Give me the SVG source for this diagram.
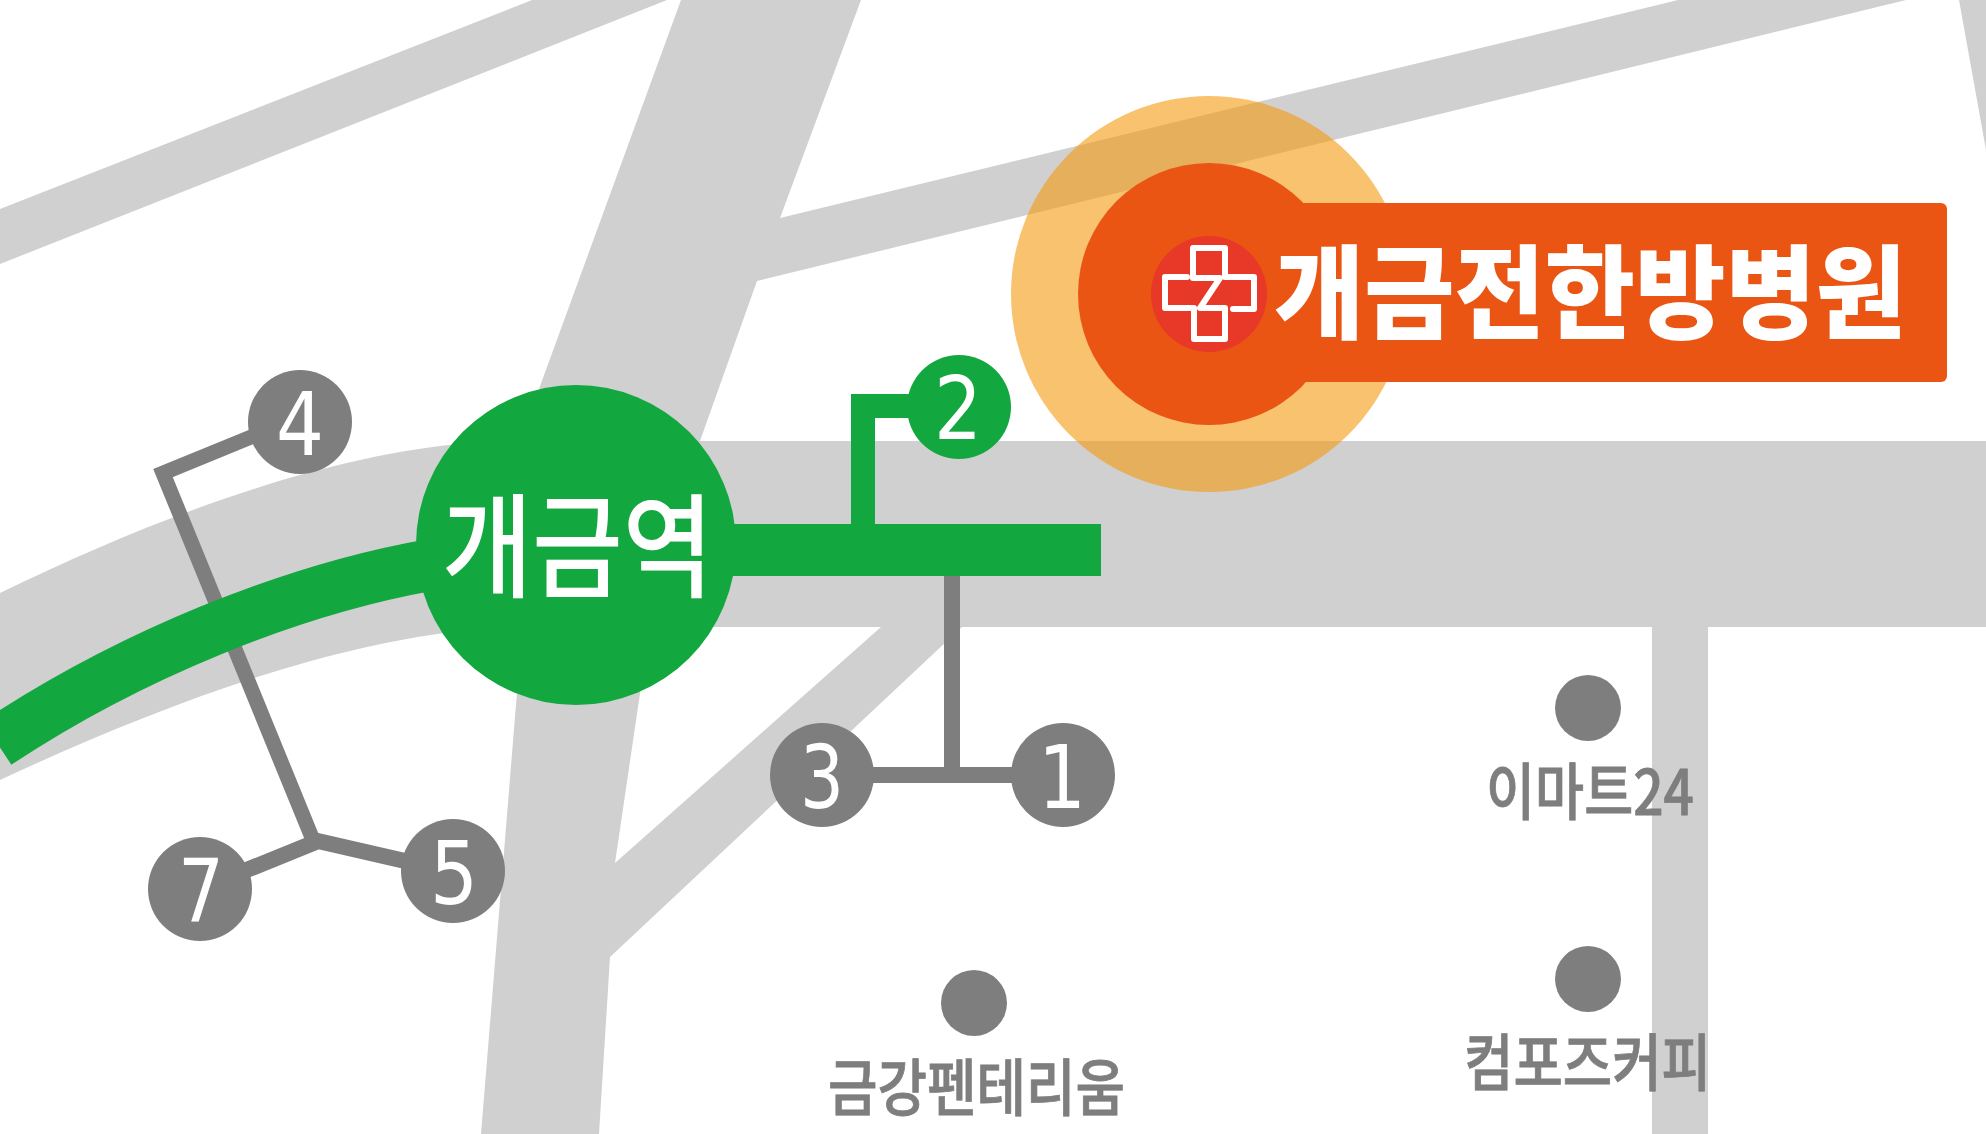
<svg xmlns="http://www.w3.org/2000/svg" width="1986" height="1134" viewBox="0 0 1986 1134">
<style>
text{font-family:"Noto Sans CJK KR","Noto Sans",sans-serif;text-anchor:start}
.road{fill:#d0d0d0}
.g{fill:#7d7e7d}
.gr{fill:#12a73f}
.num{fill:#fff;font-family:"DejaVu Sans","Noto Sans",sans-serif;font-size:87px}
.lbl{fill:#7d7e7d;stroke:#7d7e7d;stroke-width:.8px;font-size:62px;font-weight:500}
.ln{fill:none;stroke:#7d7e7d}
</style>
<rect width="1986" height="1134" fill="#fff"/>
<g id="roads">
<polygon class="road" points="0,209 532,0 667,0 0,264"/>
<polygon class="road" points="681,0 861,0 780,218 1678,0 1906,0 757,281 700,441 1986,441 1986,627 962,627 610,957 599,1134 481,1134 518,680 642,680 615,863 881,627 700,627 520,441"/>
<polygon class="road" points="1959,0 1986,0 1986,150"/>
<path class="road" d="M0,593C150,520 320,455 470,443L560,441L560,630L470,630C320,645 150,710 0,780Z"/>
<rect class="road" x="1652" y="627" width="56" height="507"/>
</g>
<g id="connectors">
<polyline class="ln" stroke-width="15" points="300,417 163,473 313,840"/>
<polyline class="ln" stroke-width="16" points="200,889 318,841 453,872"/>
<polyline class="ln" stroke-width="16" points="952,576 952,775"/>
<line class="ln" stroke-width="16" x1="822" y1="775" x2="1063" y2="775"/>
<path fill="none" stroke="#12a73f" stroke-width="52" d="M-3,743C130,655 290,590 430,565"/>
<rect class="gr" x="700" y="524" width="401" height="52"/>
<polyline fill="none" stroke="#12a73f" stroke-width="24" points="863,530 863,406 959,406"/>
</g>
<g id="hospital">
<circle cx="1209" cy="294" r="198" fill="#f59a0f" opacity=".6"/>
<circle cx="1209" cy="294" r="131" fill="#ea5514"/>
<rect x="1290" y="203" width="657" height="179" rx="6" fill="#ea5514"/>
<circle cx="1209" cy="294" r="58" fill="#e83828"/>
<path fill="none" stroke="#fff" stroke-width="6" stroke-linejoin="round" stroke-linecap="round" d="M1187,277H1165V308H1194V339H1225V308H1200L1220,278H1193V248H1225V277H1254V309H1233"/>
<text x="1274" y="331" font-size="102" font-weight="900" fill="#fff" textLength="632" lengthAdjust="spacingAndGlyphs">개금전한방병원</text>
</g>
<g id="station">
<circle class="gr" cx="576" cy="545" r="160"/>
<text x="442" y="588" font-size="113" font-weight="500" fill="#fff" textLength="271" lengthAdjust="spacingAndGlyphs">개금역</text>
</g>
<g id="exit-1"><circle class="g" cx="1063" cy="775" r="52"/><text class="num" x="1038" y="808" textLength="48" lengthAdjust="spacingAndGlyphs">1</text></g>
<g id="exit-2"><circle class="gr" cx="959" cy="407" r="52"/><text class="num" x="934" y="439" textLength="48" lengthAdjust="spacingAndGlyphs">2</text></g>
<g id="exit-3"><circle class="g" cx="822" cy="775" r="52"/><text class="num" x="800" y="808" textLength="44" lengthAdjust="spacingAndGlyphs">3</text></g>
<g id="exit-4"><circle class="g" cx="300" cy="422" r="52"/><text class="num" x="276" y="455" textLength="48" lengthAdjust="spacingAndGlyphs">4</text></g>
<g id="exit-5"><circle class="g" cx="453" cy="871" r="52"/><text class="num" x="430" y="904" textLength="48" lengthAdjust="spacingAndGlyphs">5</text></g>
<g id="exit-7"><circle class="g" cx="200" cy="889" r="52"/><text class="num" x="178" y="922" textLength="46" lengthAdjust="spacingAndGlyphs">7</text></g>
<g id="poi-emart"><circle class="g" cx="1588" cy="708" r="33"/><text class="lbl" x="1486" y="815" textLength="208" lengthAdjust="spacingAndGlyphs">이마트24</text></g>
<g id="poi-compose"><circle class="g" cx="1588" cy="979" r="33"/><text class="lbl" x="1464" y="1086" textLength="247" lengthAdjust="spacingAndGlyphs">컴포즈커피</text></g>
<g id="poi-geumgang"><circle class="g" cx="974" cy="1003" r="33"/><text class="lbl" x="828" y="1111" textLength="297" lengthAdjust="spacingAndGlyphs">금강펜테리움</text></g>
</svg>
